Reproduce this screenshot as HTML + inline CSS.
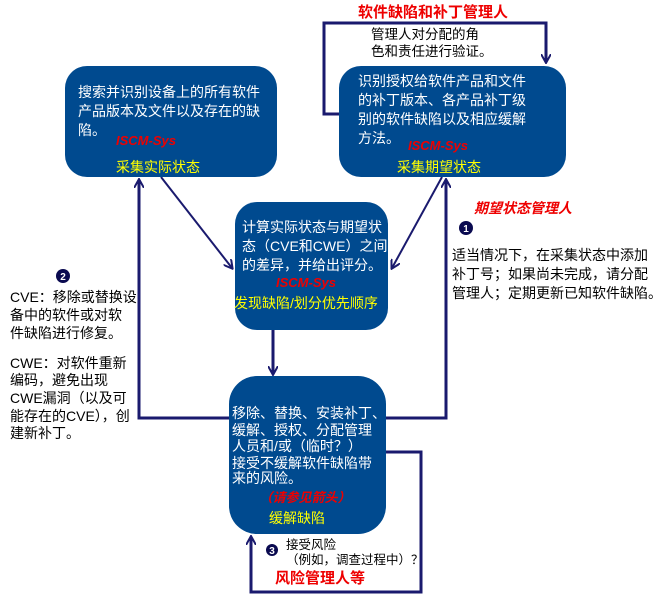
<!DOCTYPE html>
<html><head><meta charset="utf-8"><style>
html,body{margin:0;padding:0;background:#fff;}
svg{display:block;font-family:"Liberation Sans","Noto Sans CJK SC",sans-serif;}
</style></head><body>
<svg width="668" height="605" viewBox="0 0 668 605" xmlns="http://www.w3.org/2000/svg">
<defs>
<marker id="a" markerWidth="10" markerHeight="10" refX="8" refY="5" orient="auto" markerUnits="userSpaceOnUse">
<path d="M0,0 L9,5 L0,10" fill="none" stroke="#1a1a6e" stroke-width="2"/>
</marker>
</defs>
<g fill="none" stroke="#1a1a6e" stroke-width="3">
<polyline points="339,114 324,114 324,23 546,23 546,62" marker-end="url(#a)"/>
<line x1="161" y1="177" x2="232" y2="268" marker-end="url(#a)" stroke-width="2"/>
<line x1="442" y1="177" x2="392" y2="268" marker-end="url(#a)" stroke-width="2"/>
<polyline points="229,418 139,418 139,180" marker-end="url(#a)"/>
<polyline points="386,418 446,418 446,180" marker-end="url(#a)"/>
<line x1="273" y1="330" x2="273" y2="374" marker-end="url(#a)"/>
<polyline points="386,452 421,452 421,592 251,592 251,537" marker-end="url(#a)"/>
</g>
<g fill="#004a8f">
<rect x="65" y="66" width="212" height="111" rx="22"/>
<rect x="339" y="66" width="227" height="111" rx="22"/>
<rect x="235" y="202" width="153" height="128" rx="22"/>
<rect x="229" y="376" width="157" height="158" rx="28"/>
</g>
<text x="433" y="17" font-size="15" font-weight="bold" fill="#e00" text-anchor="middle">软件缺陷和补丁管理人</text>
<g font-size="13.5" fill="#000">
<text x="371" y="39">管理人对分配的角</text>
<text x="371" y="56">色和责任进行验证。</text>
</g>
<g font-size="14" fill="#fff">
<text x="78" y="97">搜索并识别设备上的所有软件</text>
<text x="78" y="116">产品版本及文件以及存在的缺</text>
<text x="78" y="135">陷。</text>
<text x="358" y="86">识别授权给软件产品和文件</text>
<text x="358" y="105">的补丁版本、各产品补丁级</text>
<text x="358" y="124">别的软件缺陷以及相应缓解</text>
<text x="358" y="143">方法。</text>
<text x="242" y="232">计算实际状态与期望状</text>
<text x="242" y="251">态（CVE和CWE）之间</text>
<text x="242" y="270">的差异，并给出评分。</text>
<text x="232" y="418">移除、替换、安装补丁、</text>
<text x="232" y="435">缓解、授权、分配管理</text>
<text x="232" y="451">人员和/或（临时？）</text>
<text x="232" y="468">接受不缓解软件缺陷带</text>
<text x="232" y="483">来的风险。</text>
</g>
<g font-size="13" font-weight="bold" font-style="italic" fill="#e00">
<text x="116" y="145">ISCM-Sys</text>
<text x="408" y="150">ISCM-Sys</text>
<text x="276" y="287">ISCM-Sys</text>
<text x="305" y="502" text-anchor="middle">（请参见箭头）</text>
</g>
<g font-size="14" fill="#ff0">
<text x="116" y="172">采集实际状态</text>
<text x="397" y="172">采集期望状态</text>
<text x="234" y="308">发现缺陷/划分优先顺序</text>
<text x="269" y="523">缓解缺陷</text>
</g>
<text x="474" y="213" font-size="14" font-weight="bold" font-style="italic" fill="#e00">期望状态管理人</text>
<g fill="#0a0a50">
<circle cx="466" cy="228" r="7"/>
<circle cx="63" cy="276" r="7"/>
<circle cx="272" cy="550" r="6"/>
</g>
<g font-size="10" font-weight="bold" fill="#fff" text-anchor="middle">
<text x="466" y="232">1</text><text x="63" y="280">2</text><text x="272" y="554">3</text>
</g>
<g font-size="14" fill="#000">
<text x="452" y="260">适当情况下，在采集状态中添加</text>
<text x="452" y="279">补丁号；如果尚未完成，请分配</text>
<text x="452" y="298">管理人；定期更新已知软件缺陷。</text>
<text x="10" y="302">CVE：移除或替换设</text>
<text x="10" y="320">备中的软件或对软</text>
<text x="10" y="338">件缺陷进行修复。</text>
<text x="10" y="368">CWE：对软件重新</text>
<text x="10" y="385">编码，避免出现</text>
<text x="10" y="403">CWE漏洞（以及可</text>
<text x="10" y="421">能存在的CVE），创</text>
<text x="10" y="438">建新补丁。</text>
</g>
<g font-size="12.5" fill="#000">
<text x="286" y="549">接受风险</text>
<text x="286" y="564">（例如，调查过程中）？</text>
</g>
<text x="275" y="583" font-size="15" font-weight="bold" fill="#e00">风险管理人等</text>
</svg>
</body></html>
